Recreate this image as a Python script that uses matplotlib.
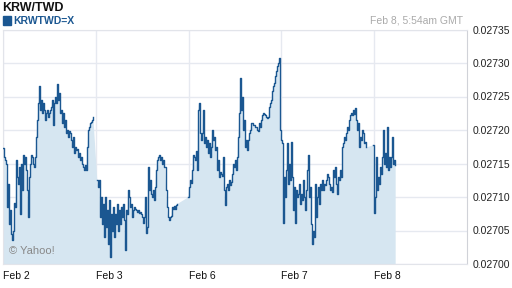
import numpy as np
from matplotlib import pyplot as plt

plt.rcParams["font.family"] = ["Liberation Sans", "DejaVu Sans"]

# KRW/TWD intraday quotes, one list per trading session
feb2 = [0.027173, 0.027160, 0.027155, 0.027150, 0.027085, 0.027120, 0.027060, 0.027080, 0.027045, 0.027036,
        0.027050, 0.027091, 0.027085, 0.027155, 0.027130, 0.027120, 0.027145, 0.027075, 0.027150, 0.027110,
        0.027163, 0.027150, 0.027160, 0.027140, 0.027110, 0.027070, 0.027130, 0.027150, 0.027163, 0.027160,
        0.027150, 0.027145, 0.027160, 0.027190, 0.027215, 0.027240, 0.027266, 0.027230, 0.027245, 0.027225,
        0.027240, 0.027230, 0.027215, 0.027225, 0.027230, 0.027220, 0.027225, 0.027230, 0.027235, 0.027245,
        0.027207, 0.027240, 0.027250, 0.027240, 0.027269, 0.027245, 0.027255, 0.027225, 0.027230, 0.027210,
        0.027225, 0.027205, 0.027215, 0.027195, 0.027200, 0.027190, 0.027198, 0.027195, 0.027185, 0.027175,
        0.027190, 0.027165, 0.027175, 0.027170, 0.027172, 0.027160, 0.027165, 0.027155, 0.027160, 0.027150,
        0.027145, 0.027140, 0.027148, 0.027140, 0.027175, 0.027200, 0.027205, 0.027210, 0.027212, 0.027215,
        0.027220]
feb3 = [0.027125, 0.027115, 0.027125, 0.027070, 0.027100, 0.027060, 0.027090, 0.027040, 0.027100, 0.027055,
        0.027080, 0.027030, 0.027095, 0.027010, 0.027075, 0.027050, 0.027085, 0.027040, 0.027075, 0.027060,
        0.027090, 0.027050, 0.027080, 0.027060, 0.027085, 0.027070, 0.027090, 0.027065, 0.027021, 0.027080,
        0.027075, 0.027110, 0.027100, 0.027085, 0.027090, 0.027070, 0.027080, 0.027085, 0.027082, 0.027080,
        0.027078, 0.027080, 0.027076, 0.027078, 0.027074, 0.027070, 0.027061, 0.027070, 0.027100, 0.027046,
        0.027055, 0.027145, 0.027110, 0.027125, 0.027105, 0.027100, 0.027110, 0.027095, 0.027115, 0.027140,
        0.027155, 0.027160, 0.027163, 0.027155, 0.027160, 0.027150, 0.027155, 0.027145, 0.027145, 0.027110,
        0.027085, 0.027070, 0.027066, 0.027070, 0.027072, 0.027085, 0.027082, 0.027086, 0.027082, 0.027088,
        0.027090]
feb6_7 = [0.027100, 0.027115, 0.027125, 0.027121, 0.027140, 0.027163, 0.027160, 0.027155, 0.027168, 0.027140,
          0.027230, 0.027240, 0.027195, 0.027185, 0.027195, 0.027230, 0.027180, 0.027190, 0.027175, 0.027185,
          0.027165, 0.027180, 0.027160, 0.027175, 0.027200, 0.027185, 0.027190, 0.027170, 0.027175, 0.027140,
          0.027155, 0.027130, 0.027138, 0.027135, 0.027132, 0.027160, 0.027110, 0.027088, 0.027115, 0.027120,
          0.027110, 0.027125, 0.027118, 0.027122, 0.027135, 0.027150, 0.027145, 0.027155, 0.027140, 0.027160,
          0.027190, 0.027225, 0.027278, 0.027230, 0.027250, 0.027200, 0.027215, 0.027175, 0.027185, 0.027170,
          0.027185, 0.027195, 0.027200, 0.027210, 0.027210, 0.027208, 0.027207, 0.027205, 0.027204, 0.027200,
          0.027198, 0.027210, 0.027205, 0.027215, 0.027222, 0.027225, 0.027224, 0.027222, 0.027220, 0.027218,
          0.027220, 0.027235, 0.027240, 0.027245, 0.027258, 0.027265, 0.027270, 0.027280, 0.027288, 0.027295,
          0.027300, 0.027307,
          0.027200, 0.027185, 0.027180, 0.027061, 0.027130, 0.027100, 0.027140, 0.027181, 0.027120, 0.027150,
          0.027125, 0.027182, 0.027130, 0.027080, 0.027115, 0.027061, 0.027110, 0.027100, 0.027105, 0.027120,
          0.027090, 0.027105, 0.027095, 0.027125, 0.027100, 0.027080, 0.027110, 0.027140, 0.027163, 0.027100,
          0.027115, 0.027060, 0.027030, 0.027050, 0.027040, 0.027120, 0.027070, 0.027100, 0.027115, 0.027090,
          0.027120, 0.027110, 0.027125, 0.027110, 0.027120, 0.027118, 0.027125, 0.027135, 0.027130, 0.027120,
          0.027110, 0.027115, 0.027107, 0.027140, 0.027130, 0.027145, 0.027120, 0.027105, 0.027130, 0.027125,
          0.027140, 0.027130, 0.027175, 0.027181, 0.027190, 0.027185, 0.027195, 0.027205, 0.027200, 0.027215,
          0.027222, 0.027225, 0.027223, 0.027230, 0.027224, 0.027233, 0.027215, 0.027200, 0.027210, 0.027175,
          0.027190, 0.027185, 0.027200, 0.027195, 0.027180, 0.027182, 0.027175]
feb8 = [0.027178, 0.027076, 0.027100, 0.027160, 0.027110, 0.027130, 0.027120, 0.027145, 0.027135, 0.027160,
        0.027200, 0.027150, 0.027165, 0.027145, 0.027205, 0.027140, 0.027160, 0.027145, 0.027160, 0.027190,
        0.027150, 0.027155, 0.027148]

# session start/end in trading days since Feb 2 00:00
sessions = [(0.0, 0.968, feb2), (1.011, 1.871, feb3), (1.989, 3.914, feb6_7), (3.989, 4.226, feb8)]
day_labels = ["Feb 2", "Feb 3", "Feb 6", "Feb 7", "Feb 8"]
yticks = [0.02700, 0.02705, 0.02710, 0.02715, 0.02720, 0.02725, 0.02730, 0.02735]

line_col = "#1b5791"
fill_col = "#d6e6f1"
grid_col = "#e6e9f0"

fig = plt.figure(figsize=(5.12, 2.88), dpi=100)
ax = fig.add_axes([3/512, 24/288, 464/512, 234.5/288])

all_t, all_v = [], []
for start, end, vals in sessions:
    t = np.linspace(start, end, len(vals))
    all_t.extend(t)
    all_v.extend(vals)
    ax.plot(t, vals, color=line_col, lw=1.0, drawstyle="steps-post", zorder=3)
ax.fill_between(all_t, all_v, 0.027, color=fill_col, lw=0, zorder=1)

ax.set_xlim(0, 5)
ax.set_ylim(0.02700, 0.02735)
ax.set_xticks(range(5))
ax.set_xticklabels(day_labels, fontsize=7.5, ha="left", color="#111111")
ax.set_yticks(yticks)
ax.set_yticklabels(["%.5f" % y for y in yticks], fontsize=7.5, color="#222222")
ax.yaxis.tick_right()
ax.tick_params(axis="both", length=0)
ax.tick_params(axis="y", pad=4)
ax.tick_params(axis="x", pad=5)
ax.grid(True, color=grid_col, lw=1, zorder=0)
ax.set_axisbelow(True)
for side in ["left", "top", "bottom"]:
    ax.spines[side].set_color("#e2e4ea")
ax.spines["right"].set_color("#d0d2d8")

fig.text(2/512, 1 - 8/288, "KRW/TWD", fontsize=9, fontweight="bold", va="center", color="#111111")
fig.patches.append(plt.Rectangle((3/512, 1 - 24.5/288), 8/512, 8/288, transform=fig.transFigure,
                                 color=line_col))
fig.text(13/512, 1 - 20.5/288, "KRWTWD=X", fontsize=7.5, fontweight="bold", va="center", color=line_col)
fig.text(463/512, 1 - 20.5/288, "Feb 8, 5:54am GMT", fontsize=7.5, va="center", ha="right", color="#aaaaaa")
ax.text(0.012, 0.055, "\u00a9 Yahoo!", transform=ax.transAxes, fontsize=8, color="#888888", va="center")

fig.savefig("out.png", dpi=100)
